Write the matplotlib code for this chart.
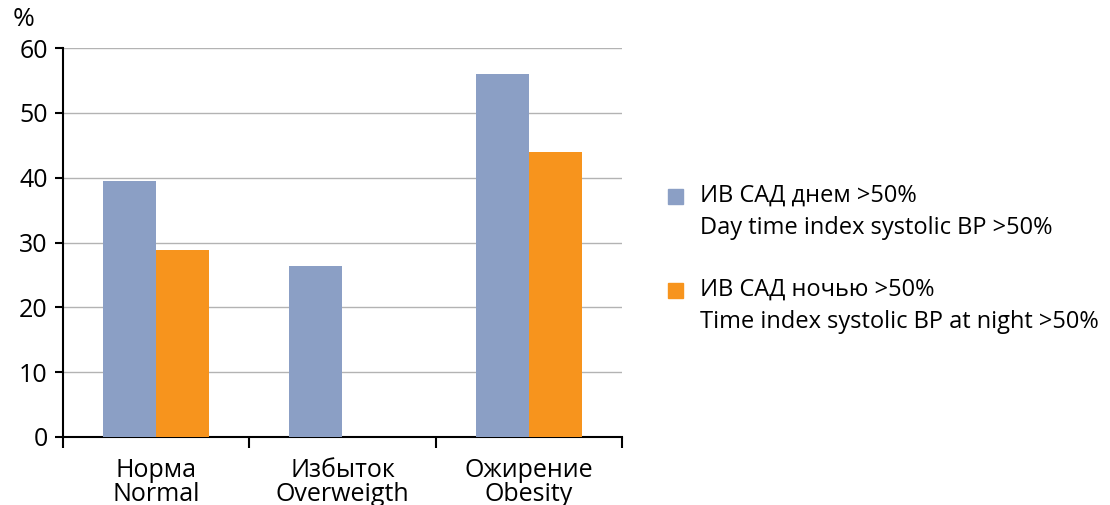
import matplotlib
matplotlib.use("Agg")
import matplotlib.pyplot as plt
from matplotlib.patches import Rectangle
import numpy as np

categories = ["Норма\nNormal", "Избыток\nOverweigth", "Ожирение\nObesity"]
day_values = [39.5, 26.4, 56.0]
night_values = [28.9, 0.0, 44.0]
series_labels = ["ИВ САД днем >50%\nDay time index systolic BP >50%",
                 "ИВ САД ночью >50%\nTime index systolic BP at night >50%"]
yticks = [0, 10, 20, 30, 40, 50, 60]

blue = "#8B9FC5"
orange = "#F7941D"

plt.rcParams['font.family'] = ['Open Sans', 'DejaVu Sans']

fig = plt.figure(figsize=(11.10, 5.05), dpi=100)
ax = fig.add_axes([63/1110, 1-437/505, (622-63)/1110, (437-48)/505])

x = np.arange(len(categories))
w = 0.285
ax.bar(x - w/2, day_values, width=w, color=blue, zorder=3)
nv = [v if v > 0 else np.nan for v in night_values]
ax.bar(x + w/2, nv, width=w, color=orange, zorder=3)

ax.set_xlim(-0.5, 2.5)
ax.set_ylim(0, 60)
ax.set_yticks(yticks)
ax.set_yticklabels([str(t) for t in yticks], fontsize=18)
for t in yticks[1:]:
    ax.axhline(t, color="#b3b3b3", lw=1, zorder=1)

for s in ["top", "right"]:
    ax.spines[s].set_visible(False)
ax.spines["left"].set_linewidth(1.5)
ax.spines["bottom"].set_linewidth(1.5)
ax.tick_params(axis="y", direction="out", length=6, width=1.5, pad=5)

ax.set_xticks([-0.5, 0.5, 1.5, 2.5])
ax.set_xticklabels([])
ax.tick_params(axis="x", direction="out", length=8, width=1.5)
for i, c in enumerate(categories):
    ax.text(i, -3.3, c, ha="center", va="top", fontsize=18, linespacing=0.92)

fig.text(24/1110, 1-20/505, "%", ha="center", va="center", fontsize=19)

# legend
for i, (lab, col) in enumerate(zip(series_labels, [blue, orange])):
    ytop = 189 + i*94
    fig.patches.append(Rectangle((668/1110, 1-(ytop+15)/505), 15/1110, 15/505,
                                 transform=fig.transFigure, color=col))
    lines = lab.split("\n")
    fig.text(700/1110, 1-(ytop+7)/505, lines[0], ha="left", va="center", fontsize=17)
    fig.text(700/1110, 1-(ytop+39)/505, lines[1], ha="left", va="center", fontsize=17)

fig.savefig("out.png", dpi=100)
